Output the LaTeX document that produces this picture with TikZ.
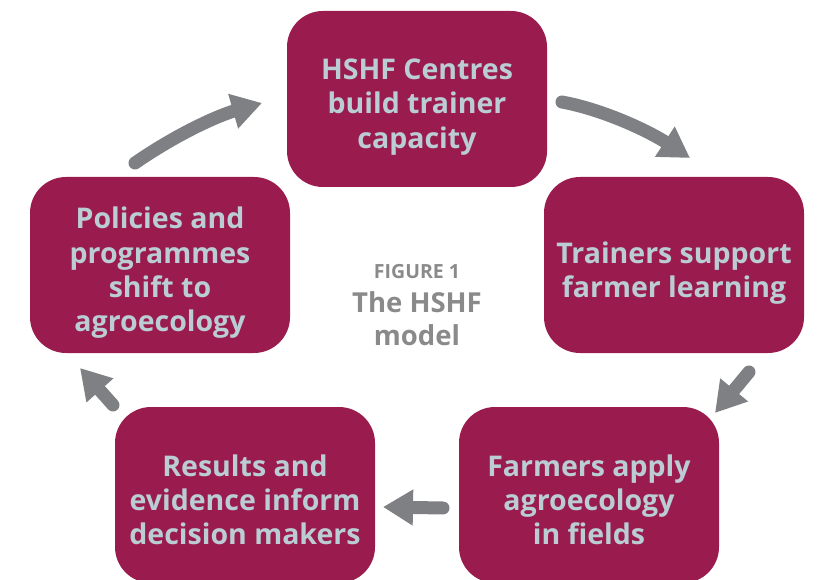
\documentclass[tikz,border=0pt]{standalone}
\usepackage{fontspec}
\setmainfont{Open Sans}
\usetikzlibrary{arrows.meta}
\definecolor{boxred}{HTML}{9A1C4E}
\definecolor{boxtext}{HTML}{BACDD4}
\definecolor{arrowgrey}{HTML}{7E8083}
\definecolor{captiongrey}{HTML}{8A8A8A}
\tikzset{
  stagebox/.style={fill=boxred, draw=none, rounded corners=36pt, minimum width=260pt, minimum height=176pt, inner sep=0pt},
  stagetext/.style={text=boxtext, align=center, font=\fontsize{28.5}{34.3}\selectfont\bfseries, inner sep=0pt},
  cyclearrow/.style={draw=arrowgrey, line width=13pt, line cap=round,
    -{Triangle[length=30pt,width=34pt]}, arrowgrey},
  captext/.style={text=captiongrey, align=center, inner sep=0pt},
}
\begin{document}
\begin{tikzpicture}[x=1pt,y=-1pt]
\useasboundingbox (0,0) rectangle (820,580);
\node[stagebox] (top) at (417,99) {};
\node[stagebox] (right) at (674,265) {};
\node[stagebox] (bright) at (589,495) {};
\node[stagebox] (bleft) at (245,495) {};
\node[stagebox] (left) at (160,265) {};
\node[stagetext] (topt) at (417,107) {HSHF Centres\\build trainer\\capacity};
\node[stagetext] (rightt) at (674,273) {Trainers support\\farmer learning};
\node[stagetext] (brightt) at (589,500) {Farmers apply\\agroecology\\in fields};
\node[stagetext] (bleftt) at (245,500) {Results and\\evidence inform\\decision makers};
\node[stagetext] (leftt) at (160,273) {Policies and\\programmes\\shift to\\agroecology};
\node[captext, font=\fontsize{19.5}{22}\selectfont\bfseries] (cap1) at (417,272) {FIGURE 1};
\node[captext, font=\fontsize{27.5}{33}\selectfont\bfseries] (cap2) at (417,319) {The HSHF\\model};
\coordinate (a1s) at (135,163);
\coordinate (a1e) at (262,103);
\coordinate (a2s) at (562,102);
\coordinate (a2e) at (690,158);
\coordinate (a3s) at (749,372);
\coordinate (a3e) at (715,413);
\coordinate (a4s) at (443,508);
\coordinate (a4e) at (383,507);
\coordinate (a5s) at (113,405);
\coordinate (a5e) at (80,368);
\draw[cyclearrow] (a1s) .. controls (180,132) and (220,115) .. (a1e);
\draw[cyclearrow] (a2s) .. controls (605,110) and (650,132) .. (a2e);
\draw[cyclearrow] (a3s) -- (a3e);
\draw[cyclearrow] (a4s) -- (a4e);
\draw[cyclearrow] (a5s) -- (a5e);
\end{tikzpicture}
\end{document}
